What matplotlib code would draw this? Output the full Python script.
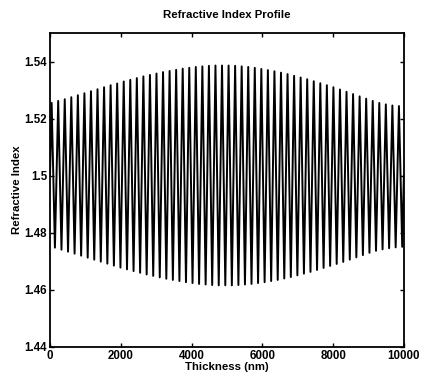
import numpy as np
import matplotlib
matplotlib.use("Agg")
import matplotlib.pyplot as plt
from matplotlib.ticker import FormatStrFormatter

# upper and lower extrema of the index profile
upper_peaks = [1.5255, 1.5262, 1.5268, 1.5275, 1.5282, 1.5289, 1.5296, 1.5303, 1.5310, 1.5317,
               1.5323, 1.5330, 1.5336, 1.5342, 1.5348, 1.5353, 1.5358, 1.5363, 1.5367, 1.5371,
               1.5375, 1.5378, 1.5381, 1.5383, 1.5385, 1.5386, 1.5386, 1.5386, 1.5385, 1.5383,
               1.5381, 1.5378, 1.5374, 1.5370, 1.5366, 1.5361, 1.5356, 1.5350, 1.5344, 1.5338,
               1.5331, 1.5324, 1.5317, 1.5310, 1.5302, 1.5294, 1.5286, 1.5278, 1.5270, 1.5262,
               1.5255, 1.5250, 1.5246, 1.5244]
lower_peaks = [1.4748, 1.4741, 1.4734, 1.4727, 1.4720, 1.4713, 1.4706, 1.4699, 1.4692, 1.4685,
               1.4678, 1.4672, 1.4666, 1.4660, 1.4654, 1.4649, 1.4644, 1.4639, 1.4635, 1.4631,
               1.4627, 1.4624, 1.4621, 1.4619, 1.4617, 1.4616, 1.4616, 1.4616, 1.4617, 1.4619,
               1.4621, 1.4624, 1.4627, 1.4631, 1.4635, 1.4640, 1.4645, 1.4651, 1.4657, 1.4663,
               1.4670, 1.4677, 1.4684, 1.4691, 1.4698, 1.4706, 1.4714, 1.4722, 1.4730, 1.4737,
               1.4742, 1.4746, 1.4749, 1.4751]
total_thickness = 10000.0  # nm
mean_index = 1.5
xticks = [0, 2000, 4000, 6000, 8000, 10000]
yticks = [1.44, 1.46, 1.48, 1.5, 1.52, 1.54]

n = len(upper_peaks)
period = total_thickness / n
x = [0.0]
y = [mean_index]
for k in range(n):
    x.append((k + 0.25) * period)
    y.append(upper_peaks[k])
    x.append((k + 0.75) * period)
    y.append(lower_peaks[k])
x.append(total_thickness)
y.append(mean_index)

plt.rcParams['font.family'] = ['Liberation Sans', 'DejaVu Sans']
plt.rcParams['font.weight'] = 'bold'

fig = plt.figure(figsize=(4.22, 3.77), dpi=100)
ax = fig.add_axes([0.1185, 0.0796, 0.8385, 0.8329])
ax.plot(x, y, color='black', lw=1.4)

ax.set_xlim(0, 10000)
ax.set_ylim(1.44, 1.55)
ax.set_xticks(xticks)
ax.set_yticks(yticks)
ax.yaxis.set_major_formatter(FormatStrFormatter('%g'))
ax.tick_params(direction='in', length=3, width=1, labelsize=8.3, pad=2, top=True, right=True)
for s in ax.spines.values():
    s.set_linewidth(1.3)
ax.set_title("Refractive Index Profile", fontsize=8.2, fontweight='bold', pad=11)
ax.set_xlabel("Thickness (nm)", fontsize=8.2, fontweight='bold', labelpad=0)
ax.set_ylabel("Refractive Index", fontsize=8.2, fontweight='bold', labelpad=2)

fig.savefig("out.png", dpi=100)
